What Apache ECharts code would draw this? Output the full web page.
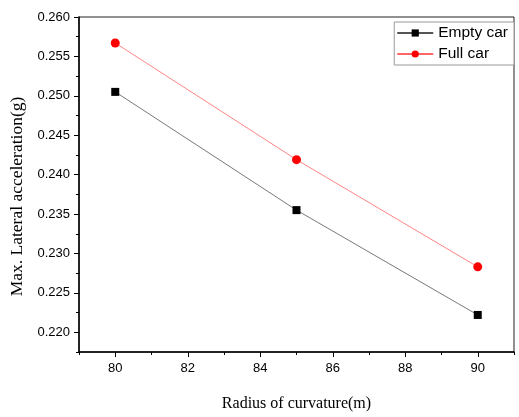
<!DOCTYPE html>
<html>
<head>
<meta charset="utf-8">
<script src="https://cdn.jsdelivr.net/npm/echarts@6/dist/echarts.min.js"></script>
<style>
  html, body { margin: 0; padding: 0; background: #fff; }
  #chart { width: 519px; height: 417px; }
</style>
</head>
<body>
<div id="chart"></div>
<script>
// data
const radius = [80, 85, 90];
const emptyCar = [0.2505, 0.2355, 0.2222];
const fullCar = [0.2567, 0.2419, 0.2283];

// tick values
const xMajor = [80, 82, 84, 86, 88, 90];
const xMinor = [79, 81, 83, 85, 87, 89, 91];
const yMajor = [0.220, 0.225, 0.230, 0.235, 0.240, 0.245, 0.250, 0.255, 0.260];
const yMinor = [0.2175, 0.2225, 0.2275, 0.2325, 0.2375, 0.2425, 0.2475, 0.2525, 0.2575];

const chart = echarts.init(document.getElementById('chart'));

const sans = 'Liberation Sans, Arial, sans-serif';
const serif = 'Liberation Serif, Times New Roman, serif';

chart.setOption({
  animation: false,
  grid: { left: 79, right: 5, top: 17, bottom: 58, show: true, borderColor: '#222', borderWidth: 1 },
  legend: {
    right: 5, top: 22,
    orient: 'vertical',
    itemWidth: 36, itemHeight: 9, itemGap: 5,
    padding: [3, 6, 3, 2],
    borderColor: '#999', borderWidth: 1,
    backgroundColor: '#fff',
    textStyle: { fontFamily: sans, fontSize: 15.5, color: '#000' },
    data: ['Empty car', 'Full car']
  },
  xAxis: [
    {
      type: 'value', min: 79, max: 91,
      name: 'Radius of curvature(m)', nameLocation: 'middle', nameGap: 44,
      nameTextStyle: { fontFamily: serif, fontSize: 16, color: '#000' },
      axisLine: { lineStyle: { color: '#000', width: 1.5 } },
      axisTick: { customValues: xMajor, length: 5, lineStyle: { color: '#000' } },
      axisLabel: { customValues: xMajor, margin: 10, fontFamily: sans, fontSize: 13, color: '#000' },
      splitLine: { show: false }
    },
    {
      type: 'value', min: 79, max: 91, position: 'bottom',
      axisLine: { show: false },
      axisTick: { customValues: xMinor, length: 3, lineStyle: { color: '#000' } },
      axisLabel: { show: false },
      splitLine: { show: false }
    }
  ],
  yAxis: [
    {
      type: 'value', min: 0.2175, max: 0.260,
      name: 'Max. Lateral acceleration(g)', nameLocation: 'middle', nameGap: 51,
      nameTextStyle: { fontFamily: serif, fontSize: 17.5, color: '#000', padding: [0, 24, 0, 0] },
      axisLine: { show: true, lineStyle: { color: '#000', width: 1.5 } },
      axisTick: { show: true, customValues: yMajor, length: 5, lineStyle: { color: '#000' } },
      axisLabel: {
        customValues: yMajor, margin: 9, fontFamily: sans, fontSize: 13, color: '#000',
        formatter: v => v.toFixed(3)
      },
      splitLine: { show: false }
    },
    {
      type: 'value', min: 0.2175, max: 0.260, position: 'left',
      axisLine: { show: false },
      axisTick: { show: true, customValues: yMinor, length: 3, lineStyle: { color: '#000' } },
      axisLabel: { show: false },
      splitLine: { show: false }
    }
  ],
  series: [
    {
      name: 'Empty car', type: 'line',
      data: radius.map((r, i) => [r, emptyCar[i]]),
      symbol: 'rect', symbolSize: 8,
      itemStyle: { color: '#000' },
      lineStyle: { color: '#555', width: 0.8 }
    },
    {
      name: 'Full car', type: 'line',
      data: radius.map((r, i) => [r, fullCar[i]]),
      symbol: 'circle', symbolSize: 9,
      itemStyle: { color: '#ff0000' },
      lineStyle: { color: '#ff6666', width: 0.8 }
    }
  ]
});
</script>
</body>
</html>
